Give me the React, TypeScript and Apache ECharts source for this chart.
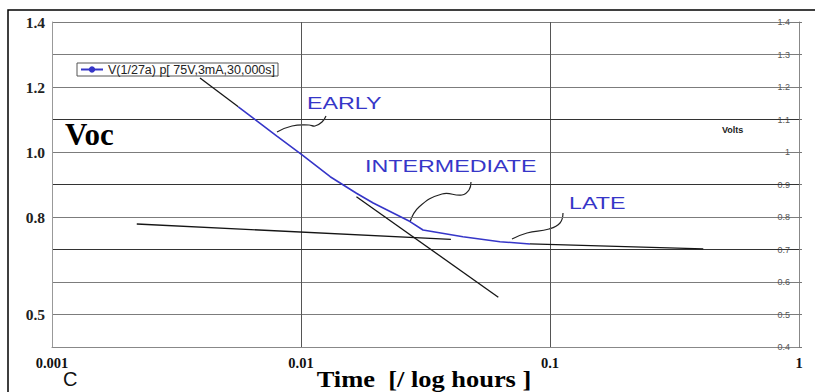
import React, { useEffect, useRef } from "react";
import * as echarts from "echarts";

// ---- data ----
const xTickLabels = ["0.001", "0.01", "0.1", "1"];
const leftTickLabels = ["1.4", "1.2", "1.0", "0.8", "0.5"];
const seriesName = "V(1/27a) p[ 75V,3mA,30,000s]";

const vocTime = [0.0056, 0.0080, 0.0101, 0.0131, 0.0167, 0.0195, 0.0274, 0.0309, 0.0447, 0.0630, 0.0831];
const vocValue = [1.139, 1.049, 0.991, 0.924, 0.873, 0.843, 0.786, 0.760, 0.739, 0.724, 0.717];

const earlyFitTime = [0.00393, 0.0056];
const earlyFitValue = [1.228, 1.139];
const steepFitTime = [0.0167, 0.0620];
const steepFitValue = [0.8625, 0.553];
const shallowFitTime = [0.00219, 0.0400];
const shallowFitValue = [0.7785, 0.731];
const lateFitTime = [0.0831, 0.4127];
const lateFitValue = [0.717, 0.702];

const phaseLabels = ["EARLY", "INTERMEDIATE", "LATE"];

const pairs = (xs: number[], ys: number[]) => xs.map((x, i) => [x, ys[i]]);

const BLUE = "#3636c8";
const SERIF = "'Liberation Serif', 'Times New Roman', serif";
const SANS = "'Liberation Sans', Arial, sans-serif";
const LIGHT = "#7c7c7c";
const DARK = "#333333";
const NONE = "rgba(0,0,0,0)";

export default function App() {
  const ref = useRef<HTMLDivElement>(null);
  useEffect(() => {
    if (!ref.current) return;
    const chart = echarts.init(ref.current, undefined, { renderer: "svg" });
    const fitLine = (name: string, xs: number[], ys: number[]) => ({
      name,
      type: "line",
      data: pairs(xs, ys),
      showSymbol: false,
      symbol: "none",
      lineStyle: { color: "#151515", width: 1.3 },
      itemStyle: { color: "#151515" },
      z: 2,
    });
    const annText = (text: string, x: number, y: number) => ({
      type: "text",
      x,
      y,
      scaleX: 1.37,
      style: { text, fill: BLUE, font: `17px ${SANS}`, verticalAlign: "middle", align: "left" },
    });
    const squiggle = (points: number[][]) => ({
      type: "polyline",
      shape: { points, smooth: 0.45 },
      style: { stroke: "#222", lineWidth: 1.2, fill: "none" },
    });
    chart.setOption({
      animation: false,
      backgroundColor: "#fff",
      grid: { left: 52, right: 16, top: 22, bottom: 45 },
      legend: {
        data: [seriesName],
        left: 77,
        top: 63,
        borderColor: "#555",
        borderWidth: 1,
        backgroundColor: "#fff",
        padding: [0, 3, 0, 3],
        itemWidth: 22,
        itemHeight: 8,
        itemGap: 4,
        textStyle: { fontSize: 12.5, color: "#222", fontFamily: SANS },
      },
      xAxis: {
        type: "log",
        logBase: 10,
        min: 0.001,
        max: 1,
        axisLine: { show: true, lineStyle: { color: "#888", width: 1 } },
        axisTick: { show: false },
        axisLabel: {
          margin: 8,
          fontFamily: SERIF,
          fontWeight: "bold",
          fontSize: 14.5,
          color: "#111",
          formatter: (v: number) => xTickLabels[Math.round(Math.log10(v)) + 3] ?? "",
        },
        splitLine: { show: true, lineStyle: { color: "#555", width: 1 } },
      },
      yAxis: [
        {
          type: "value",
          min: 0.4,
          max: 1.4,
          interval: 0.1,
          position: "left",
          axisLine: { show: true, lineStyle: { color: "#999" } },
          axisTick: { show: false },
          axisLabel: {
            margin: 7,
            fontFamily: SERIF,
            fontWeight: "bold",
            fontSize: 15.5,
            color: "#222",
            formatter: (v: number) => {
              const s = v.toFixed(1);
              return leftTickLabels.includes(s) ? s : "";
            },
          },
          splitLine: {
            show: true,
            lineStyle: {
              width: 1,
              color: [NONE, NONE, NONE, DARK, NONE, DARK, NONE, DARK, NONE, NONE, NONE],
            },
          },
          z: 1,
        },
        {
          type: "value",
          min: 0.4,
          max: 1.4,
          interval: 0.1,
          position: "right",
          axisLine: { show: true, lineStyle: { color: "#888" } },
          axisTick: { show: true, length: 3, lineStyle: { color: "#777" } },
          axisLabel: {
            inside: true,
            margin: 9,
            fontFamily: SANS,
            fontSize: 9,
            color: "#555",
            formatter: (v: number) => String(+v.toFixed(1)),
          },
          splitLine: { show: true, lineStyle: { width: 1, color: LIGHT, opacity: 1 } },
          z: 0,
        },
      ],
      series: [
        fitLine("early fit", earlyFitTime, earlyFitValue),
        fitLine("intermediate fit", steepFitTime, steepFitValue),
        fitLine("shallow fit", shallowFitTime, shallowFitValue),
        fitLine("late fit", lateFitTime, lateFitValue),
        {
          name: seriesName,
          type: "line",
          data: pairs(vocTime, vocValue),
          showSymbol: false,
          symbol: "circle",
          symbolSize: 3,
          lineStyle: { color: BLUE, width: 1.6 },
          itemStyle: { color: BLUE },
          z: 3,
        },
      ],
      graphic: [
        {
          type: "polyline",
          shape: { points: [[8, 392], [8, 10], [815, 10]] },
          style: { stroke: "#000", lineWidth: 1.5, fill: "none" },
        },
        {
          type: "text",
          x: 65,
          y: 134,
          style: { text: "Voc", font: `bold 31px ${SERIF}`, fill: "#000", verticalAlign: "middle" },
        },
        {
          type: "text",
          x: 722,
          y: 130,
          style: { text: "Volts", font: `bold 9px ${SANS}`, fill: "#222", verticalAlign: "middle" },
        },
        {
          type: "text",
          x: 63,
          y: 379,
          style: { text: "C", font: `20px ${SANS}`, fill: "#111", verticalAlign: "middle" },
        },
        {
          type: "text",
          x: 424,
          y: 379,
          scaleX: 1.15,
          style: { text: "Time  [/ log hours ]", font: `bold 23px ${SERIF}`, fill: "#000", align: "center", verticalAlign: "middle" },
        },
        annText(phaseLabels[0], 307, 103),
        annText(phaseLabels[1], 365, 166),
        annText(phaseLabels[2], 569, 203),
        squiggle([[277, 132], [292, 126], [309, 125], [315, 126], [322, 122], [326, 116]]),
        squiggle([[410, 222], [419, 207], [442, 194], [462, 195], [469, 190], [471, 182]]),
        squiggle([[512, 239], [527, 233], [549, 229], [560, 223], [563, 213]]),
      ],
    });
    return () => chart.dispose();
  }, []);
  return <div ref={ref} style={{ position: "absolute", left: 0, top: 0, width: 815, height: 392 }} />;
}
